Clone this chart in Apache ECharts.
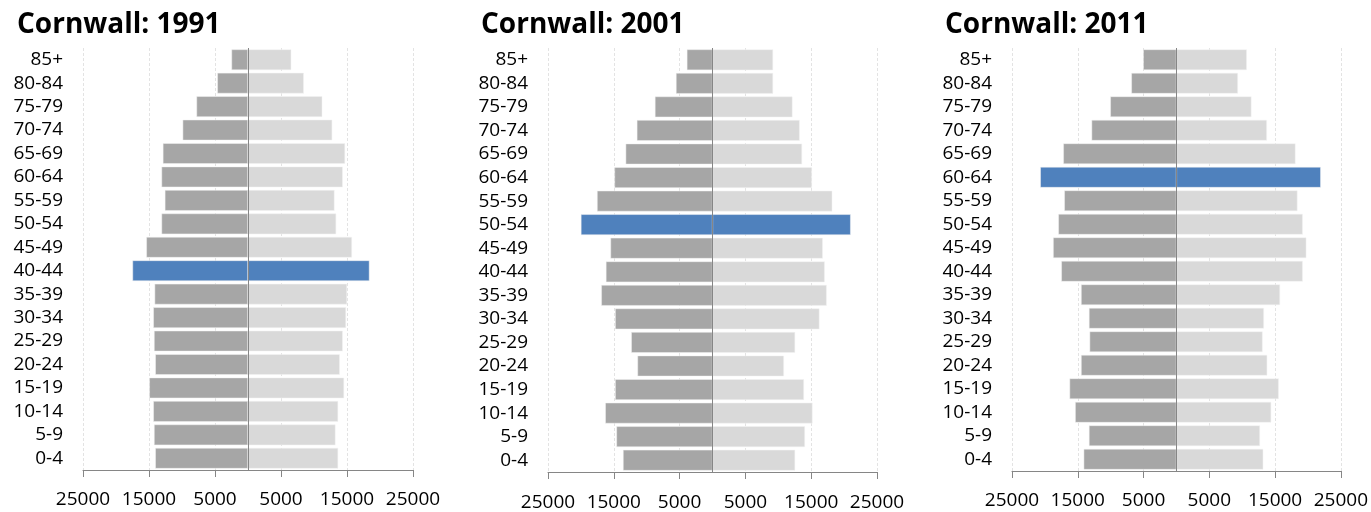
<!DOCTYPE html>
<html>
<head>
<meta charset="utf-8">
<script src="https://cdn.jsdelivr.net/npm/echarts@6/dist/echarts.min.js"></script>
<style>
html,body{margin:0;padding:0;background:#fff;}
#chart{width:1371px;height:512px;}
</style>
</head>
<body>
<div id="chart"></div>
<script>
// age bands, bottom to top
var ages = ['0-4','5-9','10-14','15-19','20-24','25-29','30-34','35-39','40-44',
            '45-49','50-54','55-59','60-64','65-69','70-74','75-79','80-84','85+'];
var years = ['1991', '2001', '2011'];

// left side (dark) and right side (light), per year
var left1991  = [14050,14240,14350,14950,14050,14240,14350,14150,17500,15400,13100,12600,13100,12900,9900,7800,4650,2500];
var right1991 = [13650,13250,13650,14550,13900,14350,14850,15000,18400,15750,13350,13100,14350,14700,12750,11250,8450,6550];
var left2001  = [13600,14600,16300,14800,11400,12350,14800,16900,16200,15500,20000,17550,14900,13200,11500,8750,5550,3900];
var right2001 = [12550,14050,15200,13900,10850,12550,16250,17350,17050,16750,21000,18200,15100,13600,13250,12150,9200,9200];
var left2011  = [14100,13300,15400,16250,14500,13200,13300,14500,17500,18750,17950,17050,20700,17200,12900,10050,6850,5050];
var right2011 = [13200,12700,14400,15550,13800,13100,13300,15750,19200,19750,19200,18400,21950,18100,13750,11400,9350,10700];

// band drawn in blue on each pyramid
var highlight = ['40-44', '50-54', '60-64'];

var leftData = [left1991, left2001, left2011];
var rightData = [right1991, right2001, right2011];

var FONT = 'Open Sans';
var DARK = '#a6a6a6', LIGHT = '#d9d9d9', BLUE = '#4f81bd';

var grids = [
    {left: 83,   top: 48, width: 330, height: 422},
    {left: 548,  top: 48, width: 329, height: 429},
    {left: 1012, top: 48, width: 330, height: 423}
];
var titleX = [17, 481, 945];
var labelMargin = [20, 21, 20];

var option = {
    animation: false,
    backgroundColor: '#fff',
    title: [],
    grid: grids,
    xAxis: [],
    yAxis: [],
    series: []
};

for (var i = 0; i < 3; i++) {
    option.title.push({
        text: 'Cornwall: ' + years[i],
        left: titleX[i], top: 11, padding: 0,
        textStyle: {fontFamily: FONT, fontWeight: 'bold', fontSize: 28, color: '#000'}
    });
    option.xAxis.push({
        type: 'value', gridIndex: i,
        min: -25000, max: 25000, interval: 10000,
        axisLine: {show: true, onZero: false, lineStyle: {color: '#868686'}},
        axisTick: {show: true, length: 7, lineStyle: {color: '#868686'}},
        axisLabel: {
            fontFamily: FONT, fontSize: 19, color: '#000', margin: labelMargin[i],
            formatter: function (v) { return Math.abs(v); }
        },
        splitLine: {show: true, lineStyle: {color: '#e3e3e3', type: [3, 2]}}
    });
    option.yAxis.push({
        type: 'category', gridIndex: i, data: ages,
        axisLine: {show: false, onZero: false},
        axisTick: {show: false},
        axisLabel: {fontFamily: FONT, fontSize: 19, color: '#000', margin: 20, interval: 0}
    });

    var hi = ages.indexOf(highlight[i]);
    var l = leftData[i].map(function (v, k) {
        return k === hi ? {value: -v, itemStyle: {color: BLUE}} : -v;
    });
    var r = rightData[i].map(function (v, k) {
        return k === hi ? {value: v, itemStyle: {color: BLUE}} : v;
    });

    option.series.push({
        type: 'bar', xAxisIndex: i, yAxisIndex: i, data: l,
        barGap: '-100%', barCategoryGap: '12%',
        itemStyle: {color: DARK, borderColor: '#f2f2f2', borderWidth: 0.5},
        silent: true
    });
    option.series.push({
        type: 'bar', xAxisIndex: i, yAxisIndex: i, data: r,
        barGap: '-100%', barCategoryGap: '12%',
        itemStyle: {color: LIGHT, borderColor: '#f2f2f2', borderWidth: 0.5},
        silent: true,
        markLine: {
            silent: true, symbol: 'none', label: {show: false},
            lineStyle: {color: '#868686', width: 1, type: 'solid'},
            data: [{xAxis: 0}]
        }
    });
}

var chart = echarts.init(document.getElementById('chart'));
chart.setOption(option);
</script>
</body>
</html>
